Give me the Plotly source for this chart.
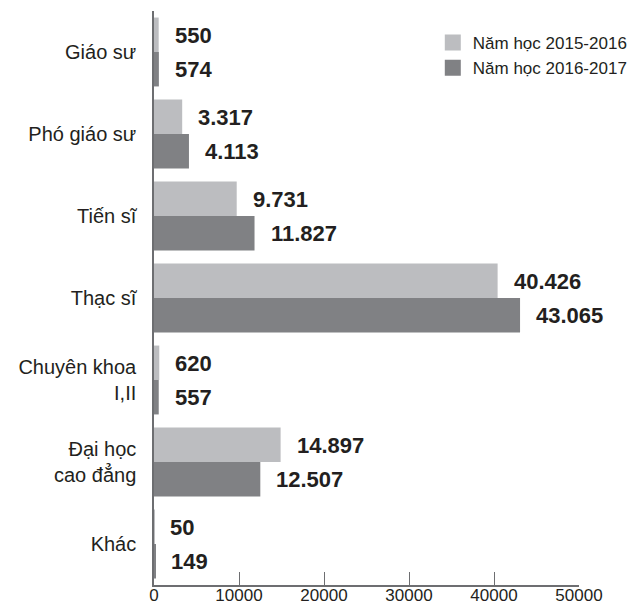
import plotly.graph_objects as go

# Staff counts by academic title / degree
categories = ["Giáo sư", "Phó giáo sư", "Tiến sĩ", "Thạc sĩ",
              "Chuyên khoa<br>I,II", "Đại học<br>cao đẳng", "Khác"]
values_2015_2016 = [550, 3317, 9731, 40426, 620, 14897, 50]
values_2016_2017 = [574, 4113, 11827, 43065, 557, 12507, 149]
series_names = ["Năm học 2015-2016", "Năm học 2016-2017"]
x_ticks = [0, 10000, 20000, 30000, 40000, 50000]

LIGHT = "#bcbdc0"
DARK = "#808184"
INK = "#231f20"
AXIS = "#6d6e71"
FONT = "Liberation Sans, Arial, sans-serif"


def vn_number(v):
    # Vietnamese style thousands separator
    return f"{v:,}".replace(",", ".")


fig = go.Figure()
for name, vals, color in [(series_names[0], values_2015_2016, LIGHT),
                          (series_names[1], values_2016_2017, DARK)]:
    fig.add_trace(go.Bar(
        y=categories, x=vals, orientation="h", name=name,
        marker=dict(color=color, line=dict(width=0)),
        showlegend=False, hoverinfo="skip",
    ))
    # legend entry with a larger square swatch
    fig.add_trace(go.Scatter(
        x=[None], y=[None], mode="markers", name=name,
        marker=dict(symbol="square", size=18, color=color),
        showlegend=True,
    ))

annotations = []
for vals, shift in [(values_2015_2016, 17), (values_2016_2017, -17)]:
    for cat, v in zip(categories, vals):
        annotations.append(dict(
            x=v, y=cat, xref="x", yref="y", text=vn_number(v),
            showarrow=False, xanchor="left", yanchor="middle",
            xshift=14, yshift=shift,
            font=dict(family=FONT, size=22, color=INK, weight="bold"),
        ))

fig.update_layout(
    width=644, height=615,
    margin=dict(l=154, r=65, t=11, b=30, pad=0),
    paper_bgcolor="white", plot_bgcolor="white",
    barmode="group", bargap=0.16, bargroupgap=0,
    font=dict(family=FONT, color=INK),
    annotations=annotations,
    legend=dict(
        xref="paper", yref="paper",
        x=0.656, y=0.9756, xanchor="left", yanchor="top",
        font=dict(family=FONT, size=17, color=INK),
        bgcolor="rgba(0,0,0,0)", itemwidth=30,
        tracegroupgap=0,
    ),
)
fig.update_xaxes(
    range=[0, 50000], tickvals=x_ticks, ticktext=[str(t) for t in x_ticks],
    tickangle=0, automargin=False,
    showline=True, linecolor=AXIS, linewidth=1.5,
    ticks="inside", ticklen=13, tickwidth=1.2, tickcolor=AXIS,
    showgrid=False, zeroline=False,
    ticklabelstandoff=-6,
    tickfont=dict(family=FONT, size=17, color=INK),
)
fig.update_yaxes(
    categoryorder="array", categoryarray=categories,
    range=[6.5, -0.5], automargin=False,
    showline=True, linecolor=AXIS, linewidth=1.5,
    ticks="", showgrid=False, zeroline=False,
    ticklabelstandoff=12,
    tickfont=dict(family=FONT, size=20, color=INK),
)

fig.write_html("out.html")
